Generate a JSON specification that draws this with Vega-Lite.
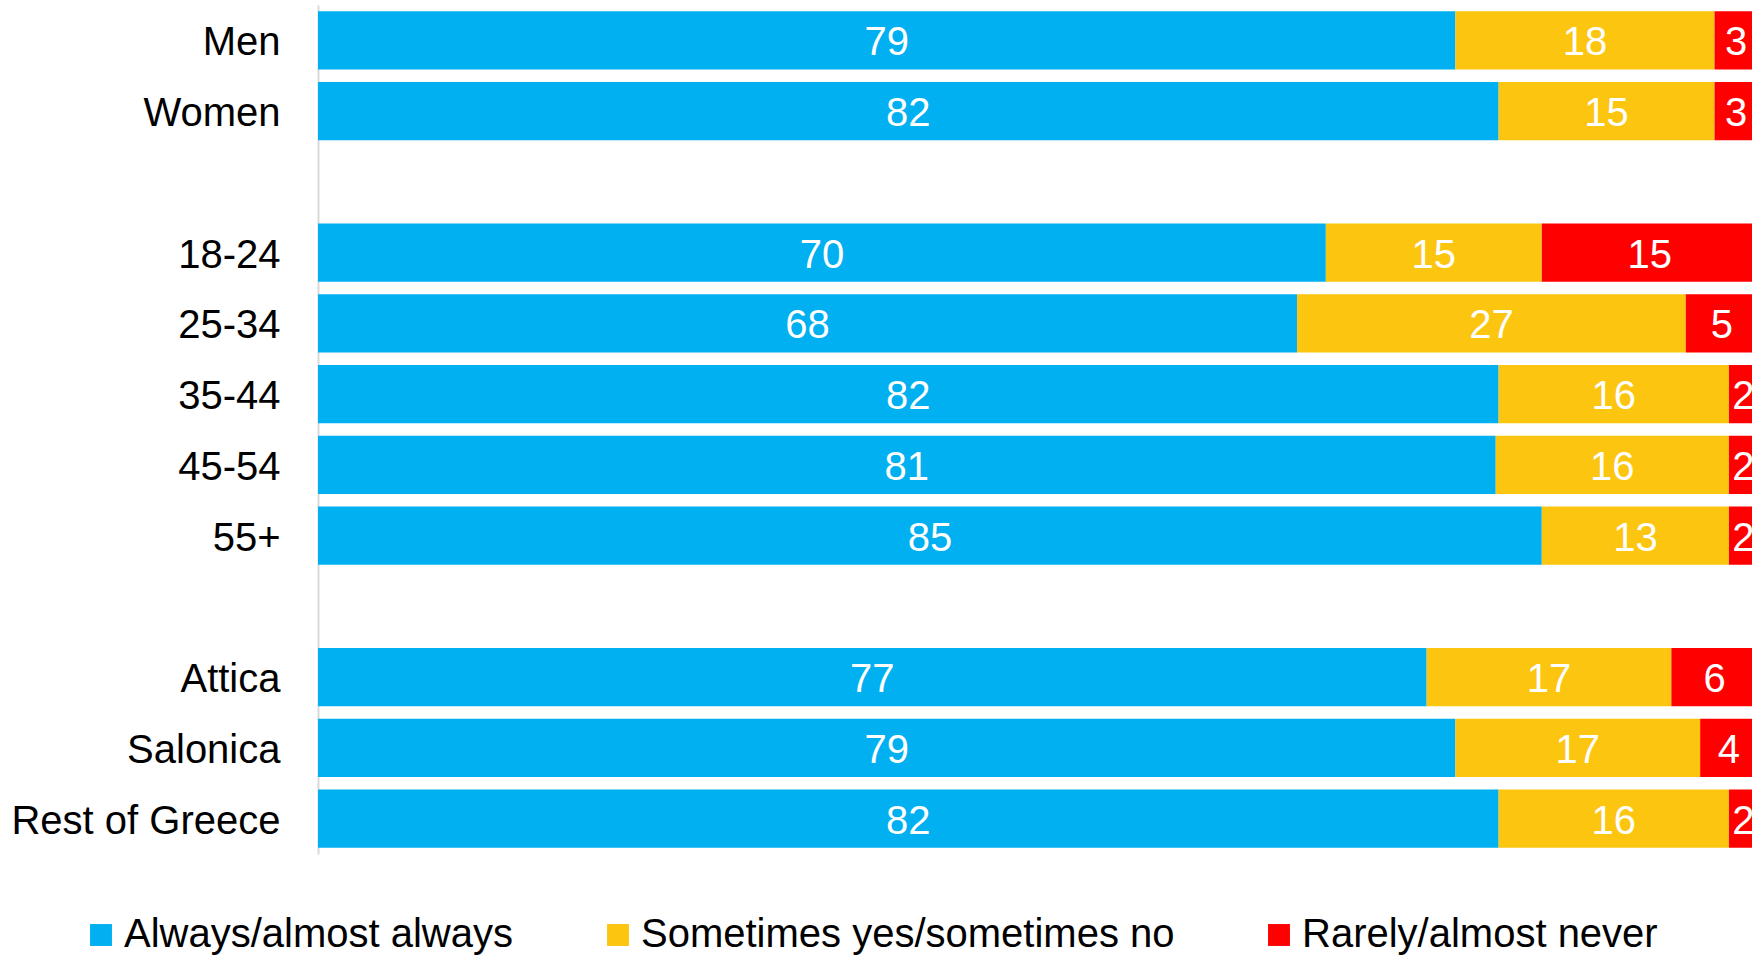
{
  "$schema": "https://vega.github.io/schema/vega-lite/v6.json",
  "width": 1434,
  "height": 849,
  "autosize": {"type": "none"},
  "padding": {"left": 318, "top": 5, "right": 0, "bottom": 101},
  "background": "white",
  "config": {"view": {"stroke": null}, "font": "Liberation Sans"},
  "data": {
    "values": [
      {"group": "Men", "response": "Always/almost always", "value": 79, "label": 79},
      {"group": "Men", "response": "Sometimes yes/sometimes no", "value": 18, "label": 18},
      {"group": "Men", "response": "Rarely/almost never", "value": 3, "label": 3},
      {"group": "Women", "response": "Always/almost always", "value": 82, "label": 82},
      {"group": "Women", "response": "Sometimes yes/sometimes no", "value": 15, "label": 15},
      {"group": "Women", "response": "Rarely/almost never", "value": 3, "label": 3},
      {"group": "18-24", "response": "Always/almost always", "value": 70, "label": 70},
      {"group": "18-24", "response": "Sometimes yes/sometimes no", "value": 15, "label": 15},
      {"group": "18-24", "response": "Rarely/almost never", "value": 15, "label": 15},
      {"group": "25-34", "response": "Always/almost always", "value": 68, "label": 68},
      {"group": "25-34", "response": "Sometimes yes/sometimes no", "value": 27, "label": 27},
      {"group": "25-34", "response": "Rarely/almost never", "value": 5, "label": 5},
      {"group": "35-44", "response": "Always/almost always", "value": 82, "label": 82},
      {"group": "35-44", "response": "Sometimes yes/sometimes no", "value": 16, "label": 16},
      {"group": "35-44", "response": "Rarely/almost never", "value": 2, "label": 2},
      {"group": "45-54", "response": "Always/almost always", "value": 81.8, "label": 81},
      {"group": "45-54", "response": "Sometimes yes/sometimes no", "value": 16.2, "label": 16},
      {"group": "45-54", "response": "Rarely/almost never", "value": 2, "label": 2},
      {"group": "55+", "response": "Always/almost always", "value": 85, "label": 85},
      {"group": "55+", "response": "Sometimes yes/sometimes no", "value": 13, "label": 13},
      {"group": "55+", "response": "Rarely/almost never", "value": 2, "label": 2},
      {"group": "Attica", "response": "Always/almost always", "value": 77, "label": 77},
      {"group": "Attica", "response": "Sometimes yes/sometimes no", "value": 17, "label": 17},
      {"group": "Attica", "response": "Rarely/almost never", "value": 6, "label": 6},
      {"group": "Salonica", "response": "Always/almost always", "value": 79, "label": 79},
      {"group": "Salonica", "response": "Sometimes yes/sometimes no", "value": 17, "label": 17},
      {"group": "Salonica", "response": "Rarely/almost never", "value": 4, "label": 4},
      {"group": "Rest of Greece", "response": "Always/almost always", "value": 82, "label": 82},
      {"group": "Rest of Greece", "response": "Sometimes yes/sometimes no", "value": 16, "label": 16},
      {"group": "Rest of Greece", "response": "Rarely/almost never", "value": 2, "label": 2}
    ]
  },
  "transform": [
    {"calculate": "indexof(['Always/almost always','Sometimes yes/sometimes no','Rarely/almost never'], datum.response)", "as": "rank"},
    {"stack": "value", "groupby": ["group"], "sort": [{"field": "rank", "order": "ascending"}], "as": ["x0", "x1"]},
    {"calculate": "(datum.x0 + datum.x1) / 2", "as": "xmid"}
  ],
  "encoding": {
    "y": {
      "field": "group",
      "type": "nominal",
      "scale": {
        "domain": ["Men", "Women", " ", "18-24", "25-34", "35-44", "45-54", "55+", "  ", "Attica", "Salonica", "Rest of Greece"],
        "paddingInner": 0.18,
        "paddingOuter": 0.09
      },
      "axis": {
        "title": null,
        "ticks": false,
        "domainColor": "#d9d9d9",
        "domainWidth": 2,
        "labelFontSize": 40,
        "labelColor": "#000000",
        "labelPadding": 38,
        "labelOffset": 3,
        "labelLimit": 400,
        "labelFont": "Liberation Sans"
      }
    }
  },
  "layer": [
    {
      "mark": {"type": "bar", "clip": true},
      "encoding": {
        "x": {"field": "x0", "type": "quantitative", "scale": {"domain": [0, 99.6], "nice": false, "zero": false}, "axis": null},
        "x2": {"field": "x1"},
        "color": {
          "field": "response",
          "type": "nominal",
          "scale": {
            "domain": ["Always/almost always", "Sometimes yes/sometimes no", "Rarely/almost never"],
            "range": ["#00B0F0", "#FCC50F", "#FF0000"]
          },
          "legend": {
            "title": null,
            "orient": "none",
            "direction": "horizontal",
            "legendX": -237,
            "legendY": 910,
            "symbolType": "square",
            "symbolSize": 480,
            "symbolStrokeWidth": 0,
            "labelFontSize": 40,
            "labelColor": "#000000",
            "labelFont": "Liberation Sans",
            "labelOffset": 3,
            "columnPadding": 84,
            "labelLimit": 800
          }
        }
      }
    },
    {
      "mark": {"type": "text", "color": "white", "fontSize": 40, "font": "Liberation Sans", "baseline": "middle", "align": "center", "dy": 3},
      "encoding": {
        "x": {"field": "xmid", "type": "quantitative"},
        "text": {"field": "label", "type": "quantitative"}
      }
    }
  ]
}
